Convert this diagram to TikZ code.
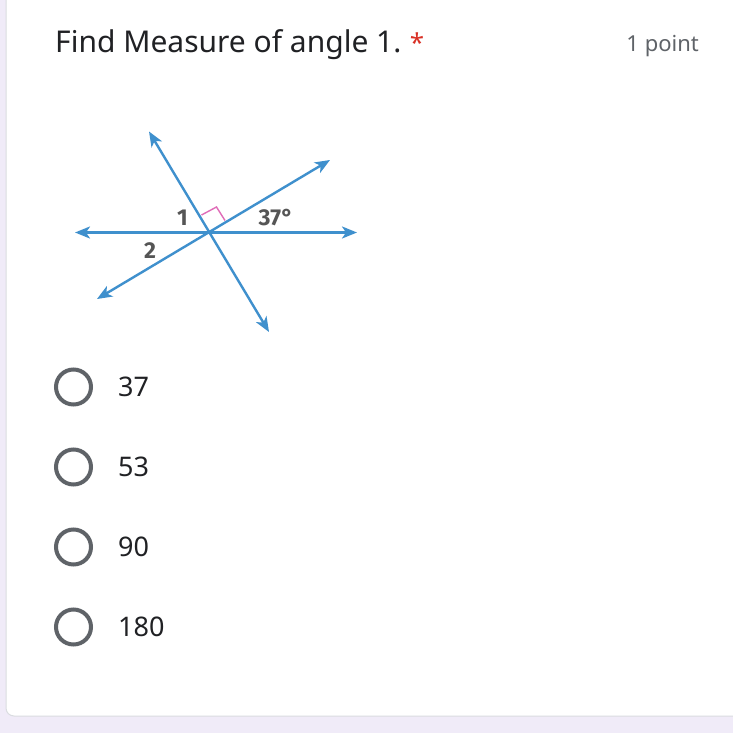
\documentclass[tikz,border=0pt]{standalone}
\usepackage{fontspec}
\setmainfont{Noto Sans}
\newfontfamily\lblfont{Fira Sans}
\usetikzlibrary{arrows.meta}
\definecolor{bgl}{HTML}{F0EBF8}
\definecolor{cardline}{HTML}{DADCE0}
\definecolor{ink}{HTML}{202124}
\definecolor{greyt}{HTML}{5F6368}
\definecolor{lineblue}{HTML}{3F90CD}
\definecolor{pinkm}{HTML}{E06CB8}
\definecolor{star}{HTML}{D93025}
\definecolor{lbl}{HTML}{555555}
\tikzset{
  geoline/.style={draw=lineblue, line width=2.4pt, {Stealth[length=15pt,width=12pt,inset=4pt]}-{Stealth[length=15pt,width=12pt,inset=4pt]}},
  radio/.style={circle, draw=greyt, line width=4pt, minimum size=35pt, inner sep=0pt},
  opt/.style={anchor=base west, text=ink, font=\fontsize{27}{30}\selectfont, inner sep=0pt},
  lab/.style={text=lbl, font=\lblfont\bfseries\fontsize{23}{24}\selectfont, inner sep=0pt}
}
\begin{document}
\begin{tikzpicture}[x=1pt,y=-1pt]
\useasboundingbox (0,0) rectangle (733,733);
\fill[bgl] (0,0) rectangle (733,733);
\draw[cardline, fill=white, line width=1pt] (740,-10) -- (6,-10) -- (6,708) arc[start angle=180, end angle=90, radius=8] -- (740,716);
% title
\node[anchor=base west, text=ink, font=\fontsize{30}{34}\selectfont, inner sep=0pt] (title) at (55,53) {Find Measure of angle 1.};
\node[anchor=base west, text=star, font=\fontsize{26}{30}\selectfont, inner sep=0pt] (ast) at ([xshift=8pt]title.base east) {*};
\node[anchor=base east, text=greyt, font=\fontsize{22}{25}\selectfont, inner sep=0pt] (pts) at (699,52) {1 point};
% figure
\coordinate (O) at (208,232.5);
\coordinate (HL) at (75,232.5);
\coordinate (HR) at (357,232.5);
\coordinate (UL) at (149,131.5);
\coordinate (DR) at (269,332);
\coordinate (UR) at (330,160);
\coordinate (DL) at (97,299);
\draw[geoline] (HL) -- (HR);
\draw[geoline] (UL) -- (DR);
\draw[geoline] (DL) -- (UR);
\coordinate (ra1) at (201.5,215);
\coordinate (ra2) at (216.5,207);
\coordinate (ra3) at (225,220.5);
\draw[pinkm, line width=1.4pt] (ra1) -- (ra2) -- (ra3);
\node[lab] (l1) at (182.5,217.5) {1};
\node[lab] (l37) at (276,217.5) {37°};
\node[lab] (l2) at (150,250.5) {2};
% options
\foreach \y/\t/\n in {387/37/a, 467/53/b, 547/90/c, 627/180/d}{
  \node[radio] (r\n) at (73.5,\y) {};
  \node[opt] (o\n) at (118,\y+9.5) {\t};
}
\end{tikzpicture}
\end{document}
